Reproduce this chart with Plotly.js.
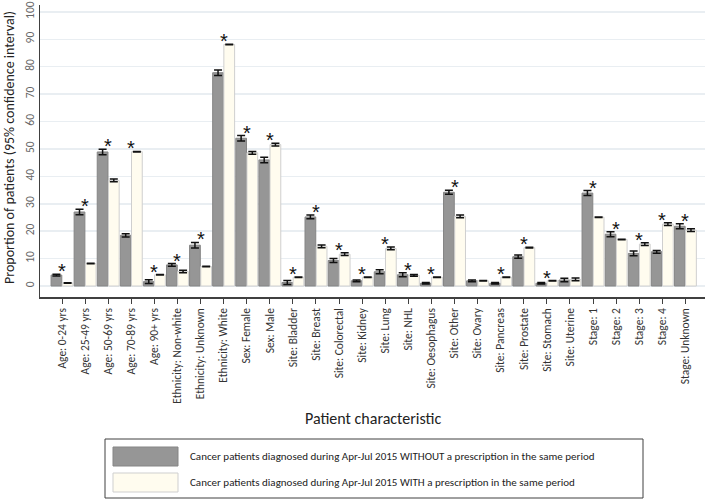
<!DOCTYPE html>
<html><head><meta charset="utf-8">
<script src="https://cdn.plot.ly/plotly-3.0.1.min.js"></script>
<style>html,body{margin:0;padding:0;background:#fff}</style>
</head><body><div id="chart" style="width:708px;height:501px"></div>
<script>
const categories = ["Age: 0-24 yrs","Age: 25-49 yrs","Age: 50-69 yrs","Age: 70-89 yrs","Age: 90+ yrs",
 "Ethnicity: Non-white","Ethnicity: Unknown","Ethnicity: White","Sex: Female","Sex: Male",
 "Site: Bladder","Site: Breast","Site: Colorectal","Site: Kidney","Site: Lung","Site: NHL",
 "Site: Oesophagus","Site: Other","Site: Ovary","Site: Pancreas","Site: Prostate","Site: Stomach",
 "Site: Uterine","Stage: 1","Stage: 2","Stage: 3","Stage: 4","Stage: Unknown"];
const withoutValues = [4.0,27.0,48.9,18.5,1.6,7.7,14.9,77.8,53.9,46.0,1.3,25.2,9.3,1.9,5.2,4.1,1.0,34.2,1.9,1.0,10.7,1.0,2.2,33.9,18.9,11.9,12.5,21.8];
const withoutErr    = [0.3,1.0,1.0,0.6,0.7,0.5,1.0,1.0,1.0,1.0,0.7,0.7,0.7,0.3,0.7,0.7,0.3,0.7,0.3,0.3,0.6,0.3,0.6,0.9,0.9,0.9,0.5,0.9];
const withValues    = [1.1,8.2,38.5,49.0,4.1,5.3,7.1,88.1,48.6,51.6,3.2,14.5,11.6,3.2,13.7,3.9,3.2,25.4,1.9,3.2,14.0,1.9,2.4,25.1,17.0,15.3,22.6,20.4];
const withErr       = [0.1,0.1,0.5,0.1,0.1,0.5,0.1,0.1,0.5,0.5,0.1,0.5,0.5,0.1,0.5,0.3,0.1,0.5,0.1,0.1,0.1,0.1,0.5,0.1,0.1,0.5,0.5,0.5];
const significant   = [1,1,1,1,1,1,1,1,1,1,1,1,1,1,1,1,1,1,0,1,1,1,0,1,1,1,1,1];
const yTicks = [0,10,20,30,40,50,60,70,80,90,100];
const seriesNames = ["Cancer patients diagnosed during Apr-Jul 2015 WITHOUT a prescription in the same period",
 "Cancer patients diagnosed during Apr-Jul 2015 WITH a prescription in the same period"];

const W=708,H=501, M={l:40,r:3,t:5,b:204};
const PW=W-M.l-M.r, PH=H-M.t-M.b;
const px=x=>(x-M.l)/PW, py=y=>(H-M.b-y)/PH;

const FONT="Carlito, Liberation Sans Narrow, Liberation Sans, Arial, sans-serif";
const grayC="#969696", creamC="#fffcef";

const traces=[
 {type:"bar", x:categories, y:withoutValues, name:seriesNames[0], marker:{color:grayC,line:{color:"#858585",width:1}},
  error_y:{type:"data",array:withoutErr,visible:true,color:"#111",thickness:1.5,width:4}, showlegend:false},
 {type:"bar", x:categories, y:withValues, name:seriesNames[1], marker:{color:creamC,line:{color:"#cfcfcf",width:1}},
  error_y:{type:"data",array:withErr,visible:true,color:"#111",thickness:1.5,width:4}, showlegend:false}
];

const shapes=[
 {type:"rect",xref:"paper",yref:"paper",x0:px(105),x1:px(643),y0:py(439),y1:py(498),line:{color:"#404040",width:1},fillcolor:"rgba(0,0,0,0)"},
 {type:"rect",xref:"paper",yref:"paper",x0:px(113),x1:px(178),y0:py(447),y1:py(466),line:{color:"#858585",width:1},fillcolor:grayC},
 {type:"rect",xref:"paper",yref:"paper",x0:px(113),x1:px(178),y0:py(473),y1:py(492),line:{color:"#cfcfcf",width:1},fillcolor:creamC}
];
const annotations=[
 {xref:"paper",yref:"paper",x:px(188),y:py(456.5),xanchor:"left",yanchor:"middle",showarrow:false,text:seriesNames[0],font:{family:FONT,size:11,color:"#222"}},
 {xref:"paper",yref:"paper",x:px(188),y:py(482.5),xanchor:"left",yanchor:"middle",showarrow:false,text:seriesNames[1],font:{family:FONT,size:11,color:"#222"}},
 {xref:"paper",yref:"paper",x:px(373),y:py(418),xanchor:"center",yanchor:"middle",showarrow:false,text:"Patient characteristic",font:{family:FONT,size:16,color:"#222"}},
 {xref:"paper",yref:"paper",x:px(9),y:py(148),xanchor:"center",yanchor:"middle",showarrow:false,textangle:-90,text:"Proportion of patients (95% confidence interval)",font:{family:FONT,size:14,color:"#222"}}
];
categories.forEach((c,i)=>{
 if(significant[i]){
  annotations.push({x:c,y:Math.max(withoutValues[i]+withoutErr[i], withValues[i]+withErr[i]),xref:"x",yref:"y",
   text:"*",showarrow:false,xanchor:"center",yanchor:"bottom",yshift:-10,font:{family:"Liberation Sans, Arial, sans-serif",size:20,color:"#111"}});
 }
});

const layout={
 width:W,height:H,margin:M,paper_bgcolor:"#fff",plot_bgcolor:"#fff",
 barmode:"group",bargap:0.03,bargroupgap:0.04,showlegend:false,
 font:{family:FONT},
 xaxis:{type:"category",range:[-0.954,27.85],showline:true,linecolor:"#404040",linewidth:1.5,
  ticks:"outside",ticklen:5,tickcolor:"#404040",tickangle:-90,tickfont:{family:FONT,size:11.5,color:"#333"},showgrid:false,fixedrange:true},
 yaxis:{range:[-4,102.5],tickvals:yTicks,ticktext:yTicks.map(String),tickangle:-90,tickfont:{family:FONT,size:11.5,color:"#666"},
  showline:true,linecolor:"#404040",linewidth:1.5,ticks:"",showgrid:true,gridcolor:"#e9eef2",gridwidth:1.5,zeroline:false,fixedrange:true},
 shapes:shapes,annotations:annotations
};
Plotly.newPlot("chart",traces,layout,{displayModeBar:false,staticPlot:true});
</script></body></html>
